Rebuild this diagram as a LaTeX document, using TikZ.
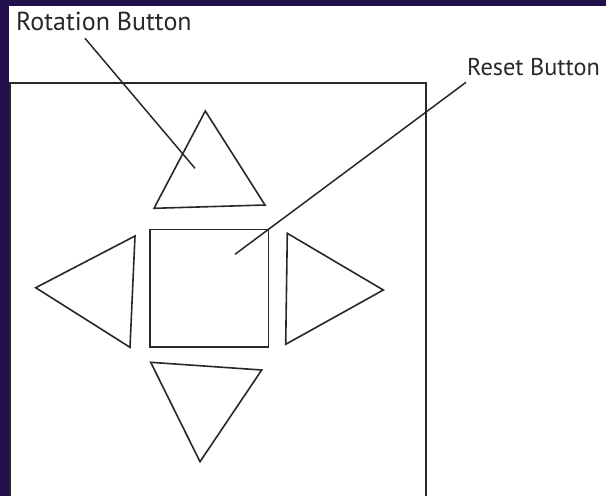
\documentclass[tikz,border=0pt]{standalone}
\usepackage{fontspec}
\setmainfont{PT Sans}
\definecolor{navy}{RGB}{32,16,78}
\definecolor{ink}{RGB}{40,40,40}
\tikzset{
  shapeline/.style={draw=ink, line width=1.6pt, line join=miter},
  leader/.style={draw=ink, line width=1.5pt},
  label/.style={text=ink, font=\fontsize{26}{30}\selectfont, inner sep=0pt, anchor=base west}
}
\begin{document}
\begin{tikzpicture}[x=1pt,y=-1pt]
\useasboundingbox (0,0) rectangle (606,496);
\fill[navy] (0,0) rectangle (606,496);
\fill[white] (9,6) rectangle (606,496);
\begin{scope}
\clip (0,0) rectangle (606,496);
\draw[shapeline] (10,510) -- (10,83) -- (426,83) -- (426,510);
\end{scope}
% buttons
\draw[shapeline] (205.3,111) coordinate (up1) -- (265,205) coordinate (up2) -- (154,208.3) coordinate (up3) -- cycle;
\draw[shapeline] (150,229.3) coordinate (sq1) rectangle (268.3,346.7) coordinate (sq2);
\draw[shapeline] (35.7,287.7) coordinate (lt1) -- (135,236) coordinate (lt2) -- (130,347.3) coordinate (lt3) -- cycle;
\draw[shapeline] (287.3,233.3) coordinate (rt1) -- (383.3,290) coordinate (rt2) -- (285.7,344.3) coordinate (rt3) -- cycle;
\draw[shapeline] (150.7,362.3) coordinate (dn1) -- (261.7,370) coordinate (dn2) -- (200,461.7) coordinate (dn3) -- cycle;
% labels
\node[label] (rotlabel) at (16,30) {Rotation Button};
\node[label, font=\fontsize{24.3}{28}\selectfont] (resetlabel) at (467,75) {Reset Button};
\coordinate (rotstart) at (85,38.3);
\coordinate (rotend) at (195,168.3);
\coordinate (resetstart) at (466,82.3);
\coordinate (resetend) at (235,254.3);
\draw[leader] (rotstart) -- (rotend);
\draw[leader] (resetstart) -- (resetend);
\end{tikzpicture}
\end{document}
